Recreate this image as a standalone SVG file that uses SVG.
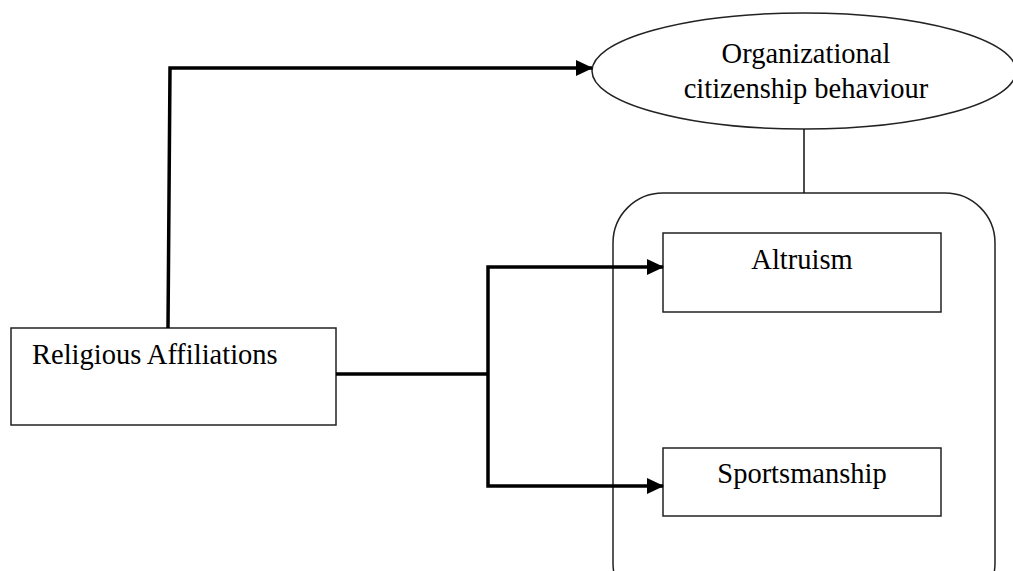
<svg xmlns="http://www.w3.org/2000/svg" width="1013" height="571" viewBox="0 0 1013 571">
<style>
.box{fill:#fff;stroke:#222;stroke-width:1.5}
.thin{fill:none;stroke:#111;stroke-width:1.5}
.conn{fill:none;stroke:#000;stroke-width:3.5}
.lbl{font-family:"Liberation Serif","Times New Roman",serif;font-size:28.5px;fill:#000}
</style>
<defs>
<marker id="arr" markerWidth="17" markerHeight="16" refX="16" refY="8" orient="auto" markerUnits="userSpaceOnUse">
<path d="M0,0 L17,8 L0,16 Z" fill="#000"/>
</marker>
</defs>
<g id="ocb">
<ellipse class="box" cx="804" cy="71" rx="212" ry="58"/>
<text class="lbl" x="806" y="63" text-anchor="middle">Organizational</text>
<text class="lbl" x="806" y="98" text-anchor="middle">citizenship behaviour</text>
</g>
<g id="dimensions">
<rect class="box" x="613" y="193" width="382" height="420" rx="50" ry="50"/>
</g>
<g id="altruism">
<rect class="box" x="663" y="233" width="278" height="79"/>
<text class="lbl" x="802" y="269" text-anchor="middle">Altruism</text>
</g>
<g id="sportsmanship">
<rect class="box" x="663" y="448" width="278" height="68"/>
<text class="lbl" x="802" y="483" text-anchor="middle">Sportsmanship</text>
</g>
<g id="religious">
<rect class="box" x="11" y="328" width="325" height="97"/>
<text class="lbl" x="32" y="364">Religious Affiliations</text>
</g>
<g id="connectors">
<line class="thin" x1="804" y1="129" x2="804" y2="193"/>
<path class="conn" d="M168,328 L170,68 L592,68" marker-end="url(#arr)"/>
<path class="conn" d="M336,374 L488,374"/>
<path class="conn" d="M488,374 L488,267 L663,267" marker-end="url(#arr)"/>
<path class="conn" d="M488,374 L488,486 L663,486" marker-end="url(#arr)"/>
</g>
</svg>
